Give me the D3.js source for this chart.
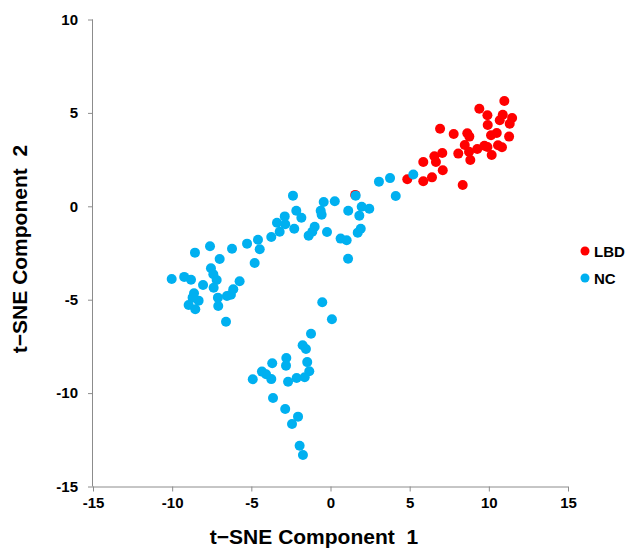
<!DOCTYPE html>
<html>
<head>
<meta charset="utf-8">
<script src="https://cdn.jsdelivr.net/npm/d3@7"></script>
<style>
  body { margin: 0; background: #fff; }
  text { font-family: "Liberation Sans", Arial, sans-serif; font-weight: bold; fill: #000; }
</style>
</head>
<body>
<div id="chart"></div>
<script>
var width = 630;
var height = 550;

// series values
var lbdX = [10.98, 9.40, 9.91, 10.88, 11.47, 10.69, 11.32, 9.93, 6.92, 7.78, 8.64, 8.77, 10.50, 10.14, 11.28,
  8.48, 9.72, 9.91, 9.27, 10.58, 10.83, 8.75, 8.07, 10.18, 7.06, 6.56, 8.83, 6.66, 5.86, 7.09, 6.41, 4.85, 5.86, 8.35, 1.56];
var lbdY = [5.64, 5.22, 4.87, 4.90, 4.73, 4.61, 4.42, 4.35, 4.15, 3.87, 3.91, 3.73, 3.92, 3.80, 3.73,
  3.28, 3.24, 3.17, 3.07, 3.27, 3.16, 2.92, 2.82, 2.75, 2.85, 2.68, 2.48, 2.37, 2.37, 1.93, 1.55, 1.45, 1.34, 1.14, 0.61];

var ncX = [5.23, 3.76, 3.06, 4.12, -2.37, 1.59, -0.43, 0.27, -2.16, -1.84, -0.62, -0.56, 1.12, 1.97, 2.45, 1.82,
  -3.38, -2.89, -2.86, -3.21, -2.29, -1.00, -1.15, -1.38, -0.22, 0.64, 1.02, 1.91, 1.72, 1.11,
  -3.74, -4.58, -5.27, -4.47, -6.22, -7.61, -8.56, -7.00, -4.79, -7.55, -7.40, -7.19, -7.38, -8.05,
  -5.74, -6.14, -6.29, -6.54, -10.03, -9.24, -8.81, -8.62, -8.71, -8.33, -8.96, -8.54, -7.11, -7.09, -6.60,
  -0.52, 0.09, -1.23, -1.76, -1.55, -2.79, -2.81, -3.68, -4.33, -4.07, -3.74, -4.91, -1.47, -1.34, -1.63,
  -2.14, -2.68, -3.63, -2.86, -2.05, -2.43, -1.95, -1.74];
var ncY = [1.70, 1.51, 1.32, 0.55, 0.57, 0.57, 0.23, 0.27, -0.24, -0.61, -0.24, -0.45, -0.24, -0.02, -0.13, -0.50,
  -0.88, -0.54, -0.96, -1.36, -1.20, -1.09, -1.36, -1.57, -1.38, -1.73, -1.82, -1.20, -1.41, -2.81,
  -1.64, -1.79, -2.00, -2.30, -2.27, -2.14, -2.48, -2.82, -3.04, -3.32, -3.64, -3.95, -4.36, -4.21,
  -4.01, -4.44, -4.73, -4.80, -3.89, -3.78, -3.93, -4.66, -4.89, -5.05, -5.28, -5.51, -4.89, -5.34, -6.18,
  -5.14, -6.05, -6.82, -7.44, -7.64, -8.12, -8.53, -8.40, -8.85, -8.99, -9.25, -9.26, -8.34, -8.83, -9.15,
  -9.19, -9.39, -10.26, -10.85, -11.26, -11.65, -12.82, -13.31];

var xTicks = [-15, -10, -5, 0, 5, 10, 15];
var yTicks = [-15, -10, -5, 0, 5, 10];
var seriesNames = ["LBD", "NC"];
var seriesColors = ["#ff0000", "#00b0f0"];
var xTitle = "t\u2212SNE Component\u00a0\u00a01";
var yTitle = "t\u2212SNE Component\u00a0\u00a02";

function buildChart(){
  var series = [
    {name: seriesNames[0], color: seriesColors[0], points: lbdX.map((x, i) => ({x: x, y: lbdY[i]}))},
    {name: seriesNames[1], color: seriesColors[1], points: ncX.map((x, i) => ({x: x, y: ncY[i]}))}
  ];

  var x = d3.scaleLinear().domain([-15, 15]).range([93, 568]);
  var y = d3.scaleLinear().domain([-15, 10]).range([486.5, 19.5]);

  var svg = d3.create("svg")
      .attr("width", width)
      .attr("height", height);

  // axes
  var xAxis = svg.append("g")
      .attr("transform", `translate(0,${y(-15)})`)
      .call(d3.axisBottom(x).tickValues(xTicks).tickFormat(d => String(d)).tickSize(5).tickPadding(6));
  var yAxis = svg.append("g")
      .attr("transform", `translate(${x(-15)},0)`)
      .call(d3.axisLeft(y).tickValues(yTicks).tickFormat(d => String(d)).tickSize(5).tickPadding(10));

  [xAxis, yAxis].forEach(ax => {
    ax.select(".domain").attr("stroke", "#8c8c8c");
    ax.selectAll(".tick line").attr("stroke", "#8c8c8c");
    ax.selectAll(".tick text")
      .attr("fill", "#000")
      .style("font-size", "15px")
      .style("font-family", "'Liberation Sans', Arial, sans-serif")
      .style("font-weight", "bold");
  });
  yAxis.select(".domain").attr("d", `M-0.5,${y(10)}V${y(-15)}`);
  xAxis.select(".domain").attr("d", `M${x(-15)},0.5H${x(15)}`);

  // points, LBD first so NC sits on top
  svg.append("g")
    .selectAll("g")
    .data(series)
    .join("g")
      .attr("fill", d => d.color)
    .selectAll("circle")
    .data(d => d.points)
    .join("circle")
      .attr("cx", d => x(d.x))
      .attr("cy", d => y(d.y))
      .attr("r", 5);

  // legend
  var legend = svg.append("g")
    .selectAll("g")
    .data(series)
    .join("g")
      .attr("transform", (d, i) => `translate(585,${251 + i * 27})`);
  legend.append("circle")
      .attr("r", 4.5)
      .attr("fill", d => d.color);
  legend.append("text")
      .attr("x", 9)
      .attr("y", 5.5)
      .style("font-size", "15px")
      .text(d => d.name);

  // titles
  svg.append("text")
      .attr("x", 314)
      .attr("y", 544)
      .attr("text-anchor", "middle")
      .style("font-size", "21px")
      .text(xTitle);
  svg.append("text")
      .attr("transform", "translate(27,249) rotate(-90)")
      .attr("text-anchor", "middle")
      .style("font-size", "21px")
      .text(yTitle);

  return svg.node();
}

document.getElementById('chart').append(buildChart());
</script>
</body>
</html>
